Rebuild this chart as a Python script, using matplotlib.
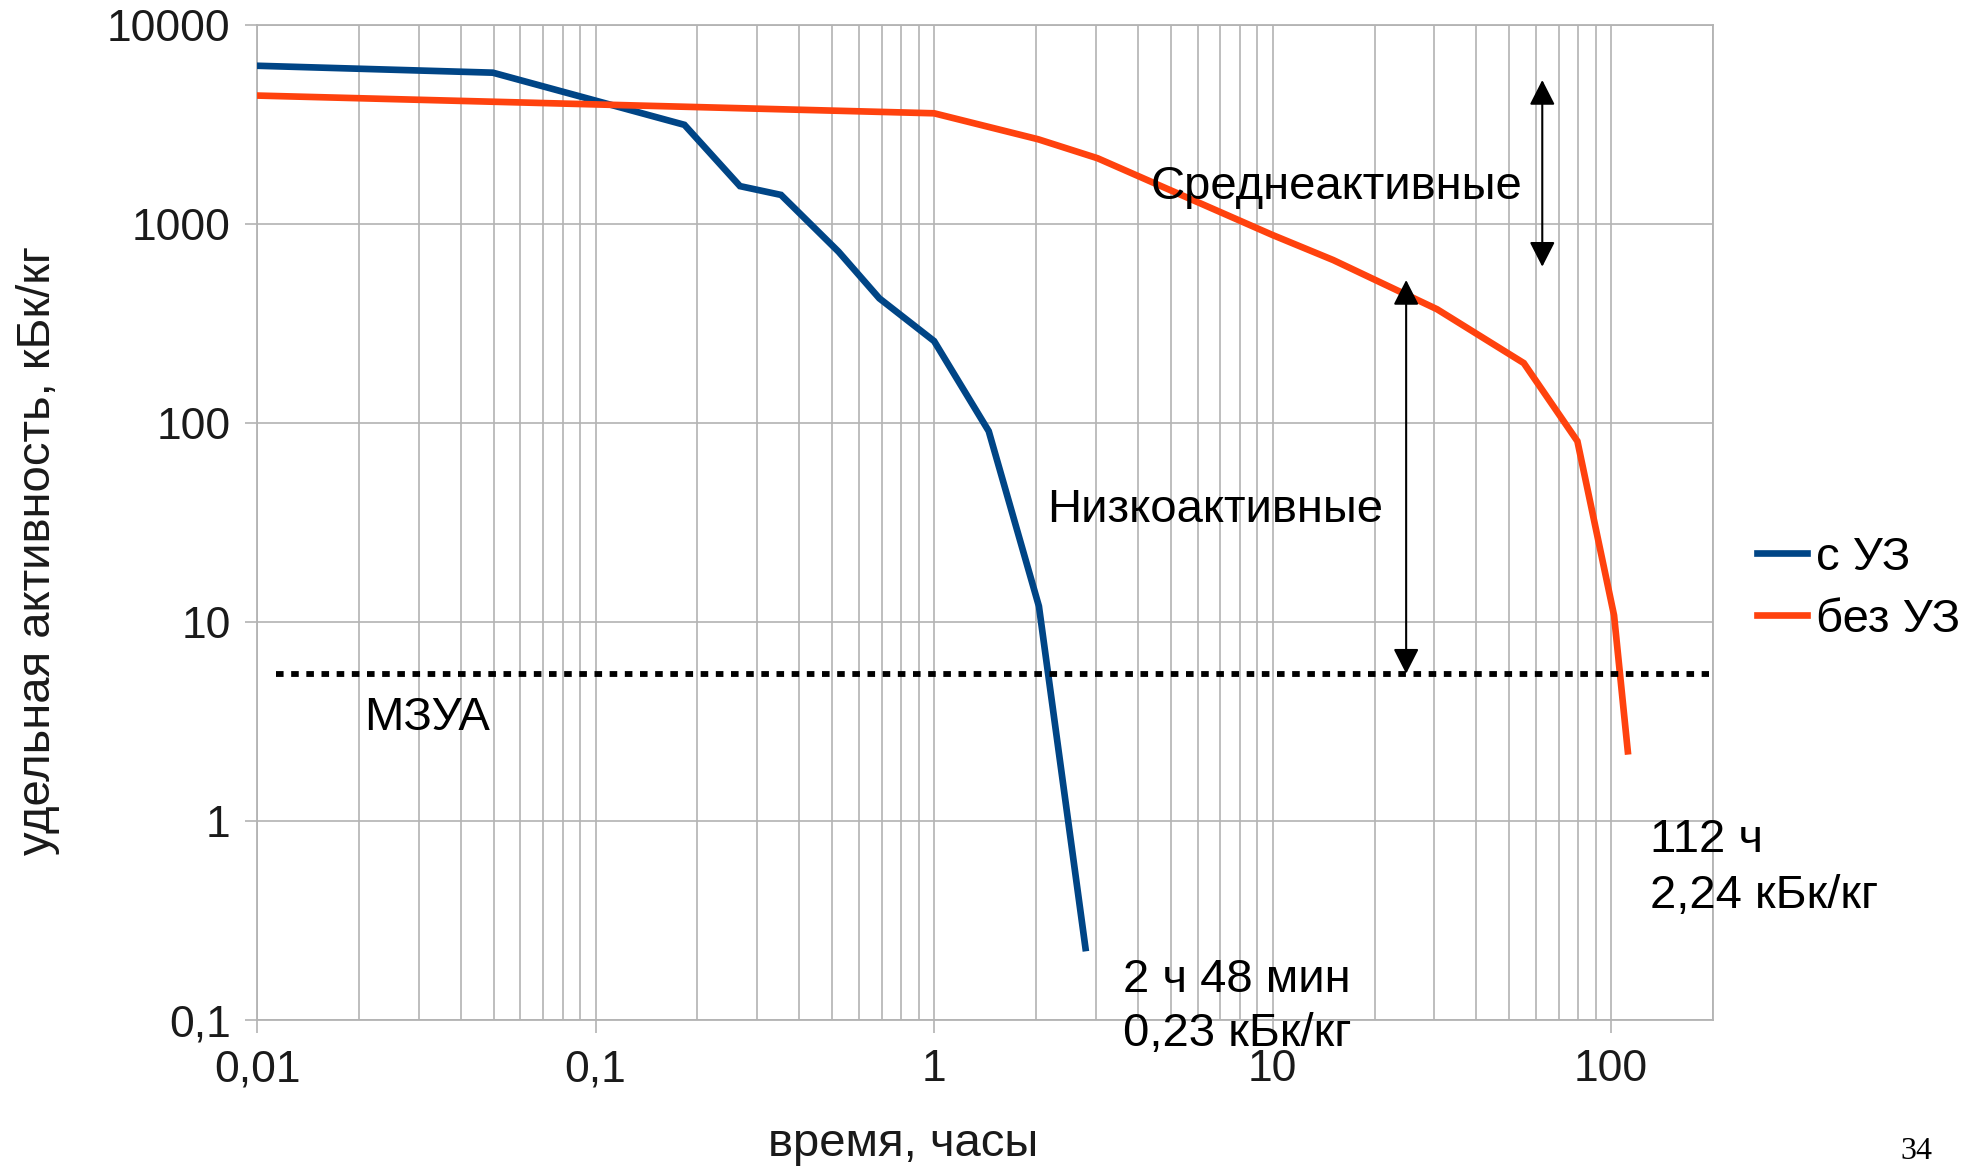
import matplotlib
matplotlib.use('Agg')
import matplotlib.pyplot as plt
from matplotlib.ticker import FixedLocator, FixedFormatter, LogLocator, NullFormatter

plt.rcParams['font.family'] = ['Liberation Sans', 'DejaVu Sans']

# время, часы / удельная активность, кБк/кг
t_uz   = [0.01, 0.0497, 0.183, 0.267, 0.353, 0.522, 0.689, 1.0, 1.45, 2.04, 2.8]
a_uz   = [6240, 5760, 3150, 1550, 1400, 726, 423, 258, 91, 12.0, 0.23]
t_bez  = [0.01, 1.0, 2.03, 3.04, 10.0, 15.1, 30.6, 55.2, 79.5, 102, 112]
a_bez  = [4420, 3600, 2665, 2140, 880, 659, 373, 200, 81, 10.8, 2.24]

mzua      = 5.5
mzua_span = [0.0114, 195]

xticks  = [0.01, 0.1, 1, 10, 100]
xlabels = ['0,01', '0,1', '1', '10', '100']
yticks  = [0.1, 1, 10, 100, 1000, 10000]
ylabels = ['0,1', '1', '10', '100', '1000', '10000']

# двойные стрелки: x, низ, верх
arrow_med = (62.6, 610, 5290)
arrow_low = (24.8, mzua, 523)

BLUE   = '#004586'
ORANGE = '#ff420e'
GRID   = '#b3b3b3'

fig = plt.figure(figsize=(19.82, 11.68), dpi=100)
ax = fig.add_axes([0.1297, 0.1267, 0.7346, 0.8519])

ax.set_xscale('log')
ax.set_yscale('log')
ax.set_xlim(0.01, 200)
ax.set_ylim(0.1, 10000)

ax.plot(t_uz, a_uz, color=BLUE, lw=4.8, label='с УЗ', solid_joinstyle='miter', zorder=3)
ax.plot(t_bez, a_bez, color=ORANGE, lw=4.8, label='без УЗ', solid_joinstyle='miter', zorder=3)
ax.plot(mzua_span, [mzua, mzua], color='black', lw=4.2, linestyle=(0, (1.3, 1.3)),
        dash_capstyle='butt', zorder=4)

for x, y0, y1 in [arrow_med, arrow_low]:
    ax.annotate('', xy=(x, y1), xytext=(x, y0),
                arrowprops=dict(arrowstyle='<|-|>,head_length=0.55,head_width=0.28',
                                color='black', lw=1.5, shrinkA=0, shrinkB=0,
                                mutation_scale=28), zorder=5)

ax.xaxis.set_major_locator(FixedLocator(xticks))
ax.xaxis.set_major_formatter(FixedFormatter(xlabels))
ax.xaxis.set_minor_locator(LogLocator(base=10, subs=range(2, 10)))
ax.xaxis.set_minor_formatter(NullFormatter())
ax.yaxis.set_major_locator(FixedLocator(yticks))
ax.yaxis.set_major_formatter(FixedFormatter(ylabels))
ax.yaxis.set_minor_locator(FixedLocator([]))

ax.grid(which='both', axis='x', color=GRID, lw=1.2)
ax.grid(which='major', axis='y', color=GRID, lw=1.2)
ax.set_axisbelow(True)
for s in ax.spines.values():
    s.set_color(GRID)
    s.set_linewidth(1.3)
ax.tick_params(which='major', direction='out', length=9, width=1.2, color=GRID,
               labelsize=32, labelcolor='#1a1a1a', pad=10)
ax.tick_params(axis='x', which='major', pad=12)
ax.tick_params(which='minor', length=0)

fig.text(0.019, 0.529, 'удельная активность, кБк/кг', fontsize=34, color='#1a1a1a',
         rotation=90, ha='center', va='center')
fig.text(0.4556, 0.0205, 'время, часы', fontsize=34, color='#1a1a1a',
         ha='center', va='center')

ax.text(4.37, 1540, 'Среднеактивные', fontsize=34, ha='left', va='center')
ax.text(2.16, 36.5, 'Низкоактивные', fontsize=34, ha='left', va='center')
ax.text(0.0207, 3.3, 'МЗУА', fontsize=34, ha='left', va='center')
ax.text(3.61, 0.159, '2 ч 48 мин', fontsize=34, ha='left', va='center')
ax.text(3.61, 0.085, '0,23 кБк/кг', fontsize=34, ha='left', va='center')
ax.text(130, 0.80, '112 ч', fontsize=34, ha='left', va='center')
ax.text(130, 0.42, '2,24 кБк/кг', fontsize=34, ha='left', va='center')

fig.legend(loc='center left', bbox_to_anchor=(0.8865, 0.496), frameon=False,
           fontsize=34, handlelength=1.05, handletextpad=0.2, labelspacing=0.38,
           borderpad=0, borderaxespad=0)

fig.text(0.967, 0.014, '34', fontsize=23, family='Liberation Serif',
         ha='center', va='center')

fig.savefig('out.png', dpi=100)
